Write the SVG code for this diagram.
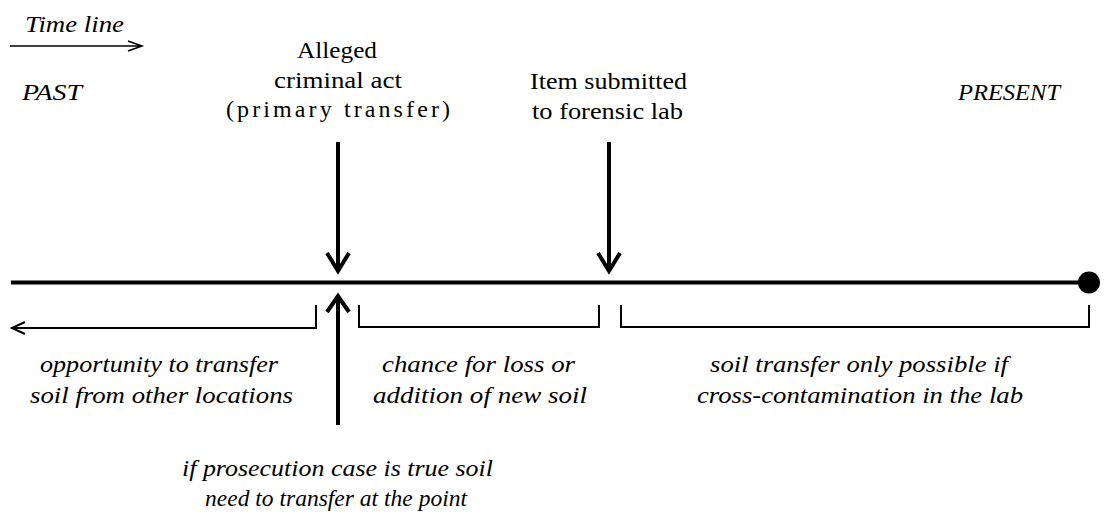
<svg xmlns="http://www.w3.org/2000/svg" width="1115" height="517" viewBox="0 0 1115 517">
<style>
.it{font-style:italic}
.thick{stroke:#000;stroke-width:4;fill:none}
.thin{stroke:#000;stroke-width:2;fill:none}
.hair{stroke:#000;stroke-width:1.5;fill:none}
</style>
<rect width="1115" height="517" fill="#fff"/>
<g font-family="Liberation Serif, DejaVu Serif, serif" font-size="24" fill="#000">
<g id="timeline-legend">
<text class="it" x="25" y="32" textLength="99" lengthAdjust="spacingAndGlyphs">Time line</text>
<path class="hair" d="M10 46H141M128 41L142 46L128 51"/>
</g>
<g id="past"><text class="it" x="22" y="100" textLength="60" lengthAdjust="spacingAndGlyphs">PAST</text></g>
<g id="present"><text class="it" x="958" y="100" textLength="102" lengthAdjust="spacingAndGlyphs">PRESENT</text></g>
<g id="alleged-act">
<text x="297" y="58" textLength="80" lengthAdjust="spacingAndGlyphs">Alleged</text>
<text x="274" y="88" textLength="128" lengthAdjust="spacingAndGlyphs">criminal act</text>
<text x="226" y="117" textLength="224">(primary transfer)</text>
</g>
<g id="item-submitted">
<text x="530" y="89" textLength="157" lengthAdjust="spacingAndGlyphs">Item submitted</text>
<text x="532" y="119" textLength="151" lengthAdjust="spacingAndGlyphs">to forensic lab</text>
</g>
<g id="main-line">
<path class="thick" d="M11 282.5H1089"/>
<circle cx="1089" cy="282.5" r="11" fill="#000"/>
</g>
<g id="connectors">
<path class="thick" d="M338 142V271M327 253L338 271L349 253"/>
<path class="thick" d="M609 142V271M598 253L609 271L620 253"/>
<path class="thick" d="M338 425V297M327 312L338 296L349 312"/>
<path class="thin" d="M316 305V328H12M25 322L12 328L25 334"/>
<path class="thin" d="M359 305V327H599V305"/>
<path class="thin" d="M621 305V327H1089V305"/>
</g>
<g id="opportunity" font-size="23">
<text class="it" x="40" y="372" textLength="238" lengthAdjust="spacingAndGlyphs">opportunity to transfer</text>
<text class="it" x="30" y="403" textLength="263" lengthAdjust="spacingAndGlyphs">soil from other locations</text>
</g>
<g id="chance" font-size="23">
<text class="it" x="382" y="372" textLength="193" lengthAdjust="spacingAndGlyphs">chance for loss or</text>
<text class="it" x="373" y="403" textLength="214" lengthAdjust="spacingAndGlyphs">addition of new soil</text>
</g>
<g id="soil-transfer" font-size="23">
<text class="it" x="710" y="372" textLength="298" lengthAdjust="spacingAndGlyphs">soil transfer only possible if</text>
<text class="it" x="697" y="403" textLength="326" lengthAdjust="spacingAndGlyphs">cross-contamination in the lab</text>
</g>
<g id="prosecution" font-size="23">
<text class="it" x="182" y="476" textLength="311" lengthAdjust="spacingAndGlyphs">if prosecution case is true soil</text>
<text class="it" x="205" y="506" textLength="262" lengthAdjust="spacingAndGlyphs">need to transfer at the point</text>
</g>
</g>
</svg>
